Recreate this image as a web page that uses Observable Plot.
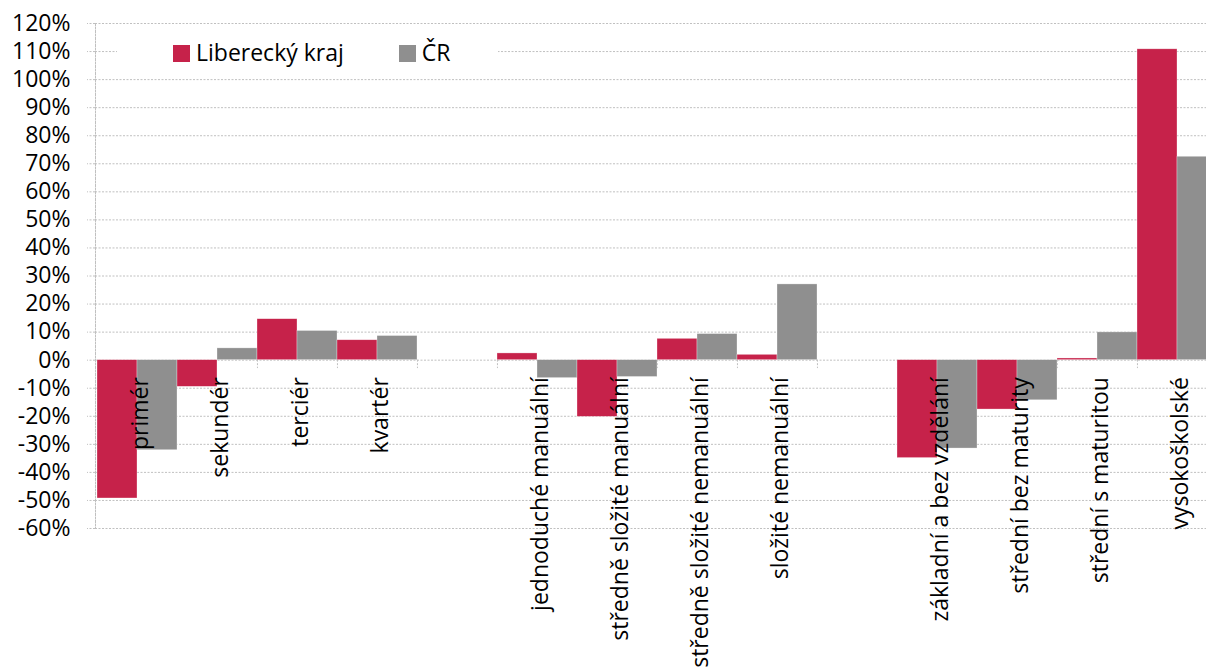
<!DOCTYPE html>
<html>
<head>
<meta charset="utf-8">
<script src="https://cdn.jsdelivr.net/npm/d3@7"></script>
<script src="https://cdn.jsdelivr.net/npm/@observablehq/plot@0.6"></script>
<style>
html, body { margin: 0; padding: 0; background: #fff; overflow: hidden; }
#wrap { position: relative; width: 1206px; height: 668px; overflow: hidden; font-family: "Open Sans", sans-serif; }
#chart svg { max-width: none !important; height: 668px !important; }
#legend { position: absolute; left: 117px; top: 33px; width: 381px; height: 38px; background: #fff; font-size: 23px; color: #000; }
.sw { position: absolute; width: 17px; height: 17px; top: 12px; }
.lt { position: absolute; top: 7.6px; line-height: 23px; white-space: nowrap; }
</style>
</head>
<body>
<div id="wrap"><div id="chart"></div><div id="legend"></div></div>
<script>
// Categories in groups (a blank slot separates the groups)
const groups = [
  ["primér", "sekundér", "terciér", "kvartér"],
  ["jednoduché manuální", "středně složité manuální", "středně složité nemanuální", "složité nemanuální"],
  ["základní a bez vzdělání", "střední bez maturity", "střední s maturitou", "vysokoškolské"]
];
const categories = groups.flat();
const seriesNames = ["Liberecký kraj", "ČR"];
const seriesColors = ["#C6224A", "#8F8F8F"];
const liberecky = [-49.3, -9.5, 14.6, 7.1, 2.4, -20.2, 7.6, 1.9, -34.9, -17.6, 0.6, 110.8];
const cr = [-32.1, 4.2, 10.4, 8.6, -6.4, -6.0, 9.3, 27.0, -31.5, -14.3, 9.9, 72.5];
const yTicks = d3.range(-60, 121, 10);

// slots: categories plus gap slots between groups
const slots = [];
groups.forEach((g, i) => { if (i > 0) slots.push("gap" + i); slots.push(...g); });
const xDomain = slots.flatMap(s => [s + "|L", s + "|C"]);

const data = [];
categories.forEach((c, i) => {
  data.push({key: c + "|L", series: seriesNames[0], value: liberecky[i]});
  data.push({key: c + "|C", series: seriesNames[1], value: cr[i]});
});

const W = 1218, ML = 95;
const bw = (W - ML) / xDomain.length;
const gridStyle = {stroke: "#c0c0c0", strokeOpacity: 1, strokeDasharray: "2,1.5"};

const chart = Plot.plot({
  width: W,
  height: 668,
  marginLeft: ML,
  marginRight: 0,
  marginTop: 23,
  marginBottom: 140,
  style: {fontFamily: "Open Sans", fontSize: "23px", color: "#000", background: "transparent", maxWidth: "none"},
  x: {domain: xDomain, padding: 0, axis: null},
  y: {domain: [-60, 120]},
  color: {domain: seriesNames, range: seriesColors},
  marks: [
    Plot.gridY(yTicks, gridStyle),
    Plot.axisY(yTicks, {tickSize: 8, tickPadding: 17, tickFormat: d => d + "%", fontSize: 23, label: null, ...gridStyle}),
    Plot.frame({anchor: "left", ...gridStyle}),
    Plot.ruleX(slots.map(s => s + "|L"), {x: d => d, y1: 0, y2: -3, dx: -bw / 2, ...gridStyle}),
    Plot.barY(data, {x: "key", y: "value", fill: "series", stroke: "#fff", strokeWidth: 0.6, strokeOpacity: 0.5}),
    Plot.text(categories, {
      x: d => d + "|C", y: d => 0, text: d => d,
      rotate: -90, textAnchor: "end", dy: 17, dx: -17,
      fontSize: 23, fill: "#000"
    })
  ]
});
document.getElementById("chart").appendChild(chart);

// Legend (inside the plot area, top)
const legend = document.getElementById("legend");
const legendPos = [{sw: 55.7, tx: 79}, {sw: 282.3, tx: 304.7}];
seriesNames.forEach((name, i) => {
  const sw = document.createElement("div");
  sw.className = "sw";
  sw.style.left = legendPos[i].sw + "px";
  sw.style.background = seriesColors[i];
  legend.appendChild(sw);
  const t = document.createElement("span");
  t.className = "lt";
  t.style.left = legendPos[i].tx + "px";
  t.textContent = name;
  legend.appendChild(t);
});
</script>
</body>
</html>
